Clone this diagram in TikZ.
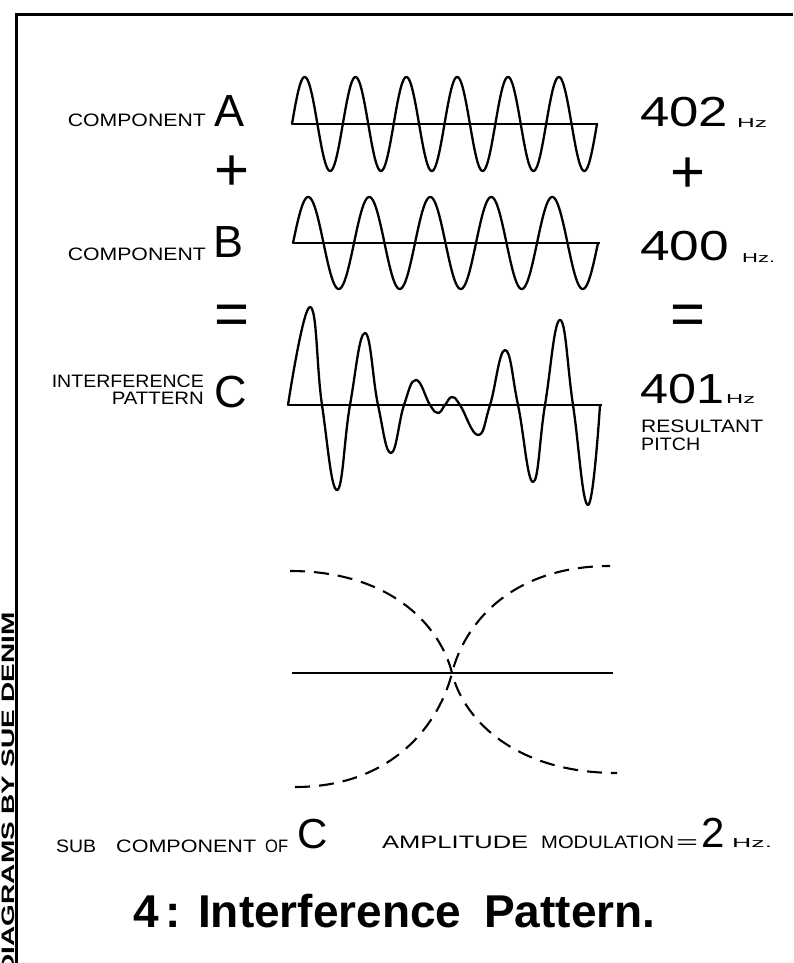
\documentclass[tikz,border=0pt]{standalone}
\usepackage{fontspec}
\setmainfont{Liberation Sans}
\newcommand\fw[2]{\resizebox{#1pt}{\height}{#2}}
\begin{document}
\begin{tikzpicture}[x=1pt,y=-1pt,
  wave/.style={line width=2.3pt, line join=round, line cap=round},
  axisline/.style={line width=2.4pt},
  envl/.style={line width=2.1pt, dash pattern=on 15pt off 9pt},
  lab/.style={inner sep=0pt, font=\fontsize{18}{18}\selectfont},
  labsm/.style={inner sep=0pt, font=\fontsize{18}{18}\selectfont},
  big/.style={inner sep=0pt, font=\fontsize{45}{45}\selectfont},
  num/.style={inner sep=0pt, font=\fontsize{42}{42}\selectfont},
  sym/.style={inner sep=0pt, font=\fontsize{60}{60}\selectfont},
  hz/.style={inner sep=0pt, font=\fontsize{13}{13}\selectfont}]
\useasboundingbox (0,0) rectangle (793,963);
\fill[white] (0,0) rectangle (793,963);
% frame
\draw[line width=3pt] (793,15) -- (16,15) -- (16,963);
% credit
\node[rotate=90, anchor=base east, inner sep=0pt, font=\bfseries\fontsize{18}{18}\selectfont] (credit) at (14,612) {\fw{362}{DIAGRAMS BY SUE DENIM}};

% wave A
\draw[axisline] (292,124) -- (598,124);
\draw[wave] plot[domain=292:597, samples=400] (\x,{124-47*sin((\x-292)/50.83*360)});
% wave B
\draw[axisline] (293,243) -- (600,243);
\draw[wave] plot[domain=293:598, samples=400] (\x,{243-46*sin((\x-293)/61*360)});
% wave C
\draw[axisline] (288,405) -- (602,405);
\draw[wave] plot[smooth, tension=0.75] coordinates {
 (288,405) (310,307) (322,405) (337,490) (350,405) (365,333) (378,405)
 (391,453) (404,405) (416,380) (430,405) (438,413) (445,405) (452,397)
 (460,405) (478,435) (490,405) (505,350) (518,405) (533,482) (545,405)
 (560,320) (573,405) (588,505) (600,405)};
% envelope
\draw[axisline] (292,673) -- (613,673);
\draw[envl] (290,571) .. controls (390,571) and (440,625) .. (452,673)
  .. controls (464,721) and (517,773) .. (617,773);
\draw[envl] (295,787) .. controls (395,787) and (440,721) .. (452,673)
  .. controls (464,625) and (510,566) .. (610,566);

% left labels
\node[lab, anchor=base east] (compA) at (206,127) {\fw{138}{COMPONENT}};
\node[big, anchor=base west] (letA) at (214,127) {A};
\node[sym] (plusL) at (232,173) {+};
\node[lab, anchor=base east] (compB) at (206,260) {\fw{138}{COMPONENT}};
\node[big, anchor=base west] (letB) at (213,257) {B};
\node[sym] (eqL) at (232,320) {=};
\node[labsm, anchor=base east] (intf) at (204,387) {\fw{152}{INTERFERENCE}};
\node[labsm, anchor=base east] (patt) at (204,404) {\fw{92}{PATTERN}};
\node[big, anchor=base west] (letC) at (214,407) {C};

% right labels
\node[num, anchor=base west] (fA) at (640,127) {\fw{88}{402}};
\node[hz, anchor=base west] (hzA) at (737,127) {\fw{30}{Hz}};
\node[sym] (plusR) at (688,175) {+};
\node[num, anchor=base west] (fB) at (640,260) {\fw{89}{400}};
\node[hz, anchor=base west] (hzB) at (742,262) {\fw{33}{Hz.}};
\node[sym] (eqR) at (688,320) {=};
\node[num, anchor=base west] (fC) at (640,403) {\fw{84}{401}};
\node[hz, anchor=base west] (hzC) at (726,403) {\fw{29}{Hz}};
\node[labsm, anchor=base west] (res) at (641,432) {\fw{122}{RESULTANT}};
\node[labsm, anchor=base west] (pitch) at (641,450) {\fw{59}{PITCH}};

% bottom labels
\node[labsm, anchor=base west] (sub) at (56,852) {\fw{40}{SUB}};
\node[labsm, anchor=base west] (compC) at (116,852) {\fw{140}{COMPONENT}};
\node[labsm, anchor=base west] (of) at (265,852) {\fw{23}{OF}};
\node[num, anchor=base west] (letC2) at (297,848) {C};
\node[labsm, anchor=base west] (ampl) at (382,848) {\fw{146}{AMPLITUDE}};
\node[labsm, anchor=base west] (modu) at (541,848) {\fw{133}{MODULATION}};
\node[labsm, anchor=base west] (eqB) at (676,848) {\fw{22}{=}};
\node[num, anchor=base west] (two) at (701,847) {2};
\node[hz, anchor=base west] (hzD) at (732,847) {\fw{40}{Hz.}};

% title
\node[anchor=base west, inner sep=0pt, font=\bfseries\fontsize{46}{46}\selectfont] (title) at (133,927) {4\hspace{7pt}: Interference\hspace{10pt} Pattern.};
\end{tikzpicture}
\end{document}
